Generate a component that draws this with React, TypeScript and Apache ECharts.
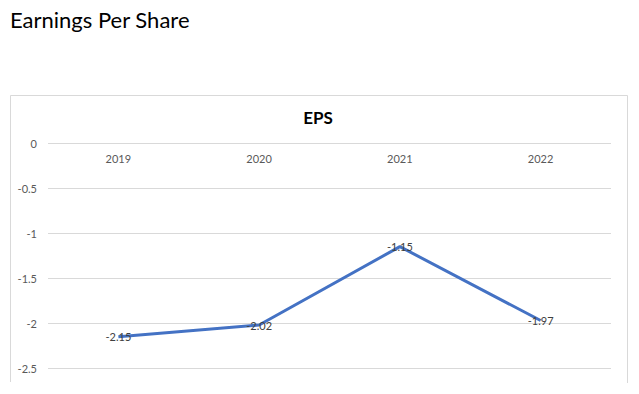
import React, { useEffect, useRef } from "react";
import * as echarts from "echarts";

const categories = ["2019", "2020", "2021", "2022"];
const epsValues = [-2.15, -2.02, -1.15, -1.97];
const pageTitle = "Earnings Per Share";
const chartTitle = "EPS";

export default function App() {
  const ref = useRef<HTMLDivElement>(null);
  useEffect(() => {
    document.body.style.margin = "0";
    const chart = echarts.init(ref.current!, null, { renderer: "svg" });
    const font = "Lato, 'Open Sans', sans-serif";
    chart.setOption({
      animation: false,
      backgroundColor: "#ffffff",
      textStyle: { fontFamily: font },
      graphic: [
        {
          type: "text",
          left: 10,
          top: 8,
          style: { text: pageTitle, fontSize: 22, fontFamily: font, fill: "#000000" },
        },
        {
          type: "polyline",
          shape: { points: [[10.5, 382], [10.5, 95.5], [627.5, 95.5], [627.5, 383]] },
          style: { stroke: "#d9d9d9", lineWidth: 1, fill: "none" },
        },
        {
          type: "text",
          x: 318,
          y: 117,
          style: {
            text: chartTitle,
            fontSize: 17,
            fontWeight: "bold",
            fontFamily: font,
            fill: "#000000",
            align: "center",
            verticalAlign: "middle",
          },
        },
      ],
      grid: { left: 48, right: 28, top: 143, bottom: 25.7, containLabel: false },
      xAxis: {
        type: "category",
        data: categories,
        position: "top",
        boundaryGap: true,
        axisLine: { show: false },
        axisTick: { show: false },
        axisLabel: { inside: true, margin: 10, color: "#595959", fontSize: 11, fontFamily: font },
        splitLine: { show: false },
      },
      yAxis: {
        type: "value",
        min: -2.5,
        max: 0,
        interval: 0.5,
        axisLine: { show: false },
        axisTick: { show: false },
        axisLabel: { margin: 11, color: "#595959", fontSize: 11, fontFamily: font },
        splitLine: { lineStyle: { color: "#d9d9d9", width: 1 } },
      },
      series: [
        {
          type: "line",
          data: epsValues,
          symbol: "circle",
          symbolSize: 0.1,
          showSymbol: true,
          lineStyle: { color: "#4472C4", width: 3 },
          itemStyle: { color: "#4472C4" },
          label: {
            show: true,
            position: "inside",
            color: "#404040",
            fontSize: 11,
            fontFamily: font,
          },
        },
      ],
    });
    return () => chart.dispose();
  }, []);
  return <div ref={ref} style={{ width: 639, height: 394 }} />;
}
